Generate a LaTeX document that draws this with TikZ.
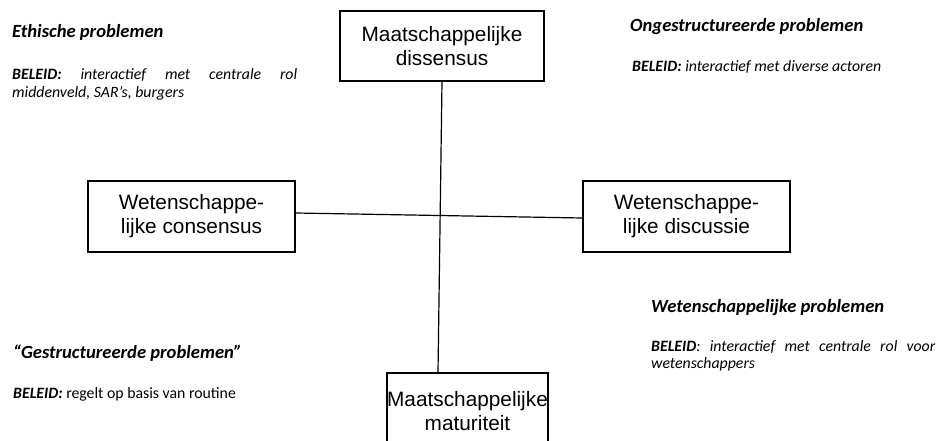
\documentclass[tikz,border=0pt]{standalone}
\usepackage{fontspec}
\newfontfamily\arialf{Liberation Sans}
\newfontfamily\calf{Carlito}
\begin{document}
\begin{tikzpicture}[x=1pt,y=-1pt,
  boxnode/.style={draw,line width=1.4pt,font=\arialf\fontsize{20.8}{24}\selectfont,align=center,inner sep=0pt},
  ttl/.style={anchor=base west,inner sep=0pt,font=\calf\bfseries\itshape\fontsize{18.6}{21}\selectfont},
  pol/.style={anchor=base west,inner sep=0pt,font=\calf\fontsize{15.8}{17.5}\selectfont},
  conn/.style={line width=1.2pt}]
\useasboundingbox (0,0) rectangle (937,441);
\fill[white] (0,0) rectangle (937,441);
\node[boxnode,minimum width=204pt,minimum height=70pt] (top) at (442,46) {Maatschappelijke\\dissensus};
\node[boxnode,minimum width=149pt,minimum height=82pt] (bot) at (467.5,414) {\raisebox{9pt}{\begin{tabular}{@{}c@{}}Maatschappelijke\\maturiteit\end{tabular}}};
\node[boxnode,minimum width=207pt,minimum height=71pt] (left) at (191.5,216.5) {Wetenschappe-\\lijke consensus};
\node[boxnode,minimum width=207pt,minimum height=71pt] (right) at (686.5,216.5) {Wetenschappe-\\lijke discussie};
\draw[conn] (top.south) -- ([xshift=-29.5pt]bot.north);
\draw[conn] ([yshift=3.5pt]left.east) -- ([yshift=-1.5pt]right.west);
\node[ttl] (t1) at (12,38) {Ethische problemen};
\node[pol,text width=285pt,align=justify] (p1) at (12,80) {\textbf{\textit{BELEID:}} \textit{interactief met centrale rol \mbox{middenveld,} SAR’s, burgers}};
\node[ttl] (t2) at (630,32) {Ongestructureerde problemen};
\node[pol] (p2) at (632,72) {\textbf{\textit{BELEID:}} \textit{interactief met diverse actoren}};
\node[ttl] (t3) at (13,358) {“Gestructureerde problemen”};
\node[pol] (p3) at (13,398) {\textbf{\textit{BELEID:}} regelt op basis van routine};
\node[ttl] (t4) at (651,312) {Wetenschappelijke problemen};
\node[pol,text width=284pt,align=justify] (p4) at (651,351) {\textbf{\textit{BELEID}}\textit{: interactief met centrale rol voor \mbox{wetenschappers}}};
\end{tikzpicture}
\end{document}
